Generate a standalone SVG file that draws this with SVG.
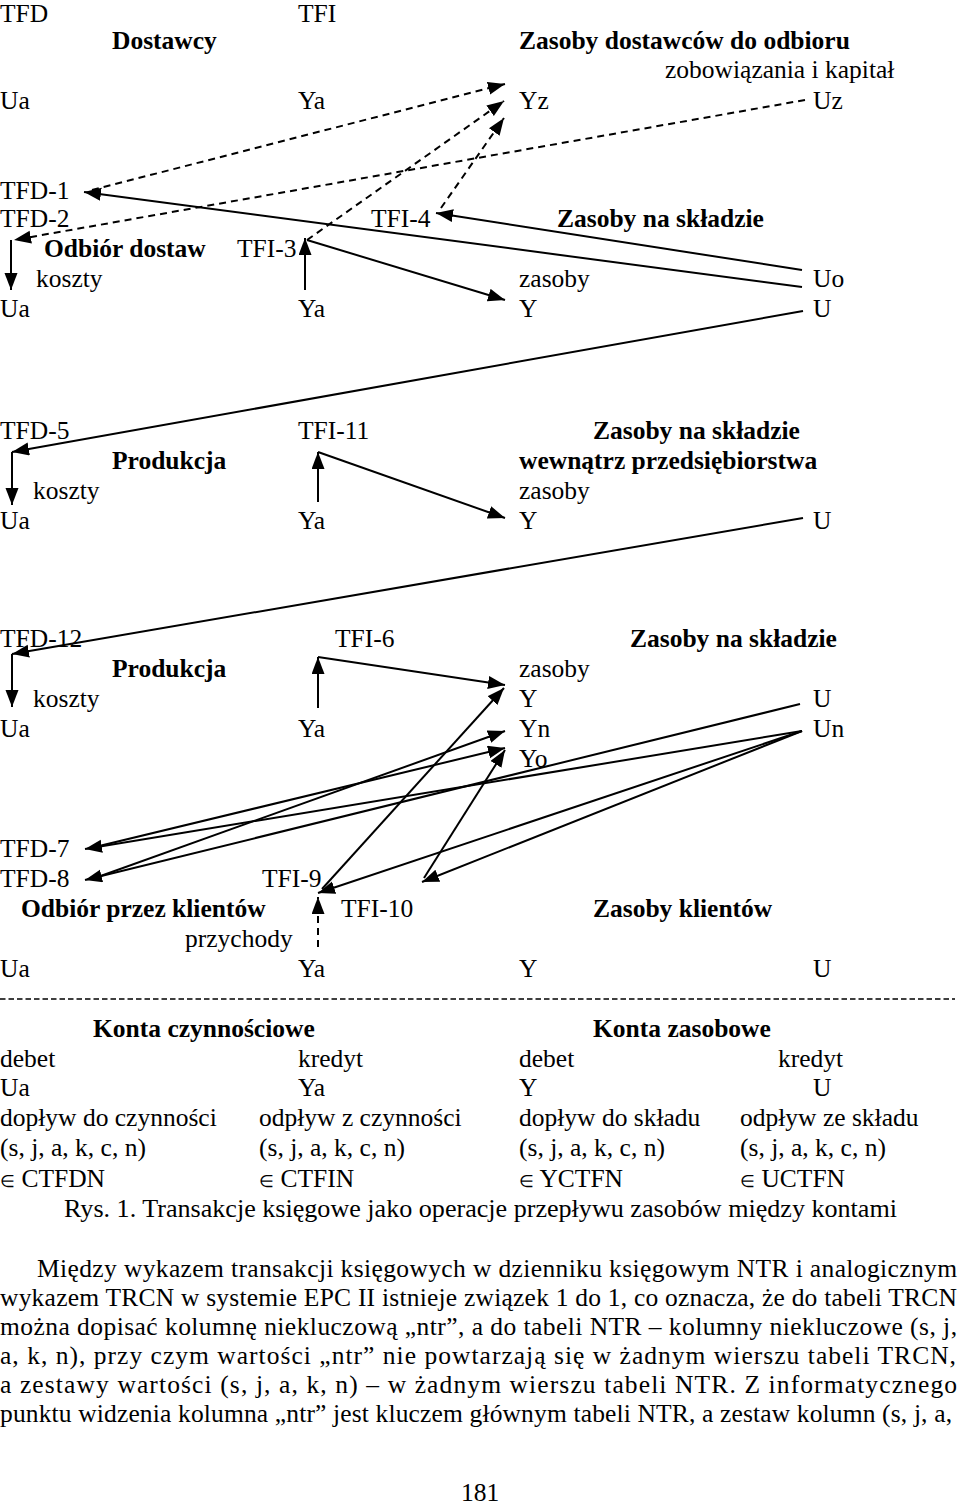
<svg xmlns="http://www.w3.org/2000/svg" width="960" height="1505" viewBox="0 0 960 1505">
<style>
text { font-family: "Liberation Serif", "Times New Roman", serif; font-size: 25.5px; fill: #000; }
.b { font-weight: bold; }
.el { font-size: 17px; }
.ln { stroke: #000; stroke-width: 2; fill: none; }
.ds { stroke: #000; stroke-width: 2; fill: none; stroke-dasharray: 7 5; }
.arr { marker-end: url(#ah); }
</style>
<defs>
<marker id="ah" markerUnits="userSpaceOnUse" markerWidth="18" markerHeight="14" refX="17" refY="6.5" orient="auto">
<path d="M0,0 L17,6.5 L0,13 z" fill="#000"/>
</marker>
</defs>
<rect width="960" height="1505" fill="#fff"/>

<g id="section-dostawcy">
<text x="0" y="22">TFD</text>
<text x="298" y="22">TFI</text>
<text class="b" x="112" y="49">Dostawcy</text>
<text class="b" x="519" y="49">Zasoby dostawców do odbioru</text>
<text x="665" y="78">zobowiązania i kapitał</text>
<text x="0" y="108.5">Ua</text>
<text x="298" y="108.5">Ya</text>
<text x="519" y="108.5">Yz</text>
<text x="813" y="108.5">Uz</text>
<text x="0" y="198.5">TFD-1</text>
<text x="0" y="226.5">TFD-2</text>
<text x="371" y="226.5">TFI-4</text>
<text class="b" x="557" y="226.5">Zasoby na składzie</text>
<text class="b" x="44" y="256.5">Odbiór dostaw</text>
<text x="237" y="256.5">TFI-3</text>
<text x="36" y="286.5">koszty</text>
<text x="519" y="286.5">zasoby</text>
<text x="813" y="286.5">Uo</text>
<text x="0" y="316.5">Ua</text>
<text x="298" y="316.5">Ya</text>
<text x="519" y="316.5">Y</text>
<text x="813" y="316.5">U</text>
</g>

<g id="section-produkcja-1">
<text x="0" y="438.5">TFD-5</text>
<text x="298" y="438.5">TFI-11</text>
<text class="b" x="593" y="438.5">Zasoby na składzie</text>
<text class="b" x="112" y="468.5">Produkcja</text>
<text class="b" x="519" y="468.5">wewnątrz przedsiębiorstwa</text>
<text x="33" y="498.5">koszty</text>
<text x="519" y="498.5">zasoby</text>
<text x="0" y="528.5">Ua</text>
<text x="298" y="528.5">Ya</text>
<text x="519" y="528.5">Y</text>
<text x="813" y="528.5">U</text>
</g>

<g id="section-produkcja-2">
<text x="0" y="646.5">TFD-12</text>
<text x="335" y="646.5">TFI-6</text>
<text class="b" x="630" y="646.5">Zasoby na składzie</text>
<text class="b" x="112" y="676.5">Produkcja</text>
<text x="519" y="676.5">zasoby</text>
<text x="33" y="706.5">koszty</text>
<text x="519" y="706.5">Y</text>
<text x="813" y="706.5">U</text>
<text x="0" y="736.5">Ua</text>
<text x="298" y="736.5">Ya</text>
<text x="519" y="736.5">Yn</text>
<text x="813" y="736.5">Un</text>
<text x="519" y="766.5">Yo</text>
</g>

<g id="section-klienci">
<text x="0" y="856.5">TFD-7</text>
<text x="0" y="886.5">TFD-8</text>
<text x="262" y="886.5">TFI-9</text>
<text class="b" x="21" y="916.5">Odbiór przez klientów</text>
<text x="341" y="916.5">TFI-10</text>
<text class="b" x="593" y="916.5">Zasoby klientów</text>
<text x="185" y="946.5">przychody</text>
<text x="0" y="976.5">Ua</text>
<text x="298" y="976.5">Ya</text>
<text x="519" y="976.5">Y</text>
<text x="813" y="976.5">U</text>
</g>

<g id="separator">
<line x1="0" y1="999" x2="955" y2="999" stroke="#000" stroke-width="1.5" stroke-dasharray="5.5 3"/>
</g>

<g id="konta">
<text class="b" x="93" y="1036.5">Konta czynnościowe</text>
<text class="b" x="593" y="1036.5">Konta zasobowe</text>
<text x="0" y="1066.5">debet</text>
<text x="298" y="1066.5">kredyt</text>
<text x="519" y="1066.5">debet</text>
<text x="778" y="1066.5">kredyt</text>
<text x="0" y="1095.5">Ua</text>
<text x="298" y="1095.5">Ya</text>
<text x="519" y="1095.5">Y</text>
<text x="813" y="1095.5">U</text>
<text x="0" y="1125.5">dopływ do czynności</text>
<text x="259" y="1125.5">odpływ z czynności</text>
<text x="519" y="1125.5">dopływ do składu</text>
<text x="740" y="1125.5">odpływ ze składu</text>
<text x="0" y="1155.5">(s, j, a, k, c, n)</text>
<text x="259" y="1155.5">(s, j, a, k, c, n)</text>
<text x="519" y="1155.5">(s, j, a, k, c, n)</text>
<text x="740" y="1155.5">(s, j, a, k, c, n)</text>
<text x="0" y="1186.5"><tspan class="el">∈</tspan> CTFDN</text>
<text x="259" y="1186.5"><tspan class="el">∈</tspan> CTFIN</text>
<text x="519" y="1186.5"><tspan class="el">∈</tspan> YCTFN</text>
<text x="740" y="1186.5"><tspan class="el">∈</tspan> UCTFN</text>
<text x="64" y="1216.5" textLength="833" lengthAdjust="spacingAndGlyphs">Rys. 1. Transakcje księgowe jako operacje przepływu zasobów między kontami</text>
</g>

<g id="paragraph">
<text x="37" y="1276.5" textLength="920" lengthAdjust="spacing">Między wykazem transakcji księgowych w dzienniku księgowym NTR i analogicznym</text>
<text x="0" y="1305.5" textLength="957" lengthAdjust="spacing">wykazem TRCN w systemie EPC II istnieje związek 1 do 1, co oznacza, że do tabeli TRCN</text>
<text x="0" y="1334.5" textLength="957" lengthAdjust="spacing">można dopisać kolumnę niekluczową „ntr”, a do tabeli NTR – kolumny niekluczowe (s, j,</text>
<text x="0" y="1363.5" textLength="956" lengthAdjust="spacing">a, k, n), przy czym wartości „ntr” nie powtarzają się w żadnym wierszu tabeli TRCN,</text>
<text x="0" y="1392.5" textLength="957" lengthAdjust="spacing">a zestawy wartości (s, j, a, k, n) – w żadnym wierszu tabeli NTR. Z informatycznego</text>
<text x="0" y="1421.5" textLength="952" lengthAdjust="spacing">punktu widzenia kolumna „ntr” jest kluczem głównym tabeli NTR, a zestaw kolumn (s, j, a,</text>
<text x="461" y="1500.5">181</text>
</g>

<g id="connectors">
<line class="ds arr" x1="92" y1="190" x2="505" y2="84"/>
<line class="ds arr" x1="307" y1="240" x2="504" y2="101"/>
<line class="ds arr" x1="441" y1="208" x2="504" y2="118"/>
<line class="ds arr" x1="805" y1="100" x2="14" y2="240"/>
<line class="ln arr" x1="802" y1="287" x2="84" y2="192"/>
<line class="ln arr" x1="802" y1="270" x2="436" y2="213"/>
<line class="ln arr" x1="305" y1="290" x2="305" y2="238"/>
<line class="ln arr" x1="307" y1="240" x2="505" y2="300"/>
<line class="ln arr" x1="11" y1="240" x2="11" y2="290"/>

<line class="ln arr" x1="803" y1="311" x2="12" y2="452"/>
<line class="ln arr" x1="12" y1="452" x2="12" y2="505"/>
<line class="ln arr" x1="318" y1="502" x2="318" y2="452"/>
<line class="ln arr" x1="318" y1="452" x2="505" y2="518"/>

<line class="ln arr" x1="803" y1="518" x2="12" y2="654"/>
<line class="ln arr" x1="12" y1="654" x2="12" y2="707"/>
<line class="ln arr" x1="318" y1="708" x2="318" y2="657"/>
<line class="ln arr" x1="318" y1="657" x2="505" y2="685"/>

<line class="ln arr" x1="802" y1="731" x2="85" y2="849"/>
<line class="ln arr" x1="95" y1="847" x2="505" y2="748"/>
<line class="ln arr" x1="800" y1="704" x2="85" y2="880"/>
<line class="ln arr" x1="95" y1="878" x2="505" y2="731"/>
<line class="ln arr" x1="802" y1="731" x2="318" y2="893"/>
<line class="ln arr" x1="322" y1="889" x2="504" y2="688"/>
<line class="ln arr" x1="802" y1="731" x2="422" y2="882"/>
<line class="ln arr" x1="424" y1="878" x2="505" y2="750"/>
<line class="ds arr" x1="318" y1="947" x2="318" y2="897"/>
</g>
</svg>
